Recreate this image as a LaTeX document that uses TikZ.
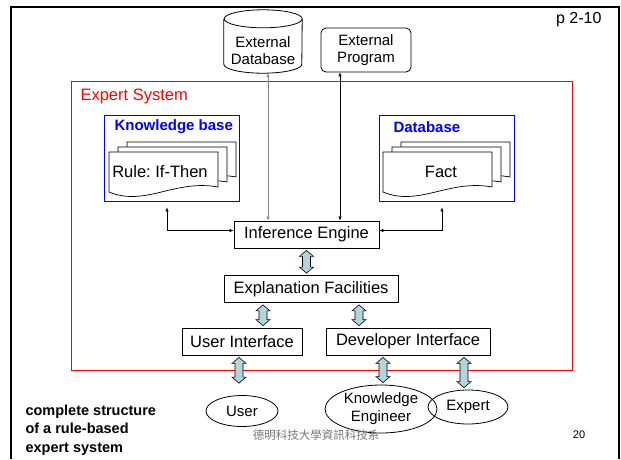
\documentclass[tikz,border=0pt]{standalone}
\usepackage{fontspec}
\setmainfont{Liberation Sans}
\newfontfamily\cjkfont{Noto Sans CJK TC}
\usepackage{xcolor}
\usepackage{tikz}
\usetikzlibrary{arrows.meta,calc,shapes.geometric}
\definecolor{arrowblue}{RGB}{176,214,218}
\definecolor{kbblue}{RGB}{0,0,255}
\definecolor{footgray}{RGB}{120,120,120}
\definecolor{linkgray}{RGB}{135,135,135}
\frenchspacing

\begin{document}
\begin{tikzpicture}[x=1pt,y=-1pt,
            box/.style={draw,line width=0.8pt,inner sep=0pt,minimum height=27,
                font=\fontsize{16.5}{19}\selectfont},
            outer/.style={inner sep=0pt,minimum height=44,align=center,
                font=\fontsize{15}{17}\selectfont},
            kbox/.style={draw=kbblue,line width=0.8pt,minimum width=135,minimum height=86,inner sep=0pt},
            kbtitle/.style={anchor=west,text=kbblue,font=\fontsize{15}{18}\bfseries},
            page/.style={draw,fill=white,line width=0.7pt},
            person/.style={ellipse,draw,line width=0.8pt,inner sep=0pt,align=center,
                font=\fontsize{15}{18}\selectfont},
            link/.style={{Latex[length=4pt,width=3.5pt]}-{Latex[length=4pt,width=3.5pt]},line width=0.6pt},
            fatarrow/.style={
                fill=arrowblue,draw=black,line width=0.6pt,
                to path={
                    let \p1=(\tikztostart), \p2=(\tikztotarget) in
                    (\x1,\y1-2pt) -- ++(7pt,-6pt) -- ++(-3pt,0pt) -- (\x1+4pt,\y2+8pt)
                    -- ++(3pt,0pt) -- (\x1,\y2+2pt) -- ++(-7pt,6pt) -- ++(3pt,0pt)
                    -- (\x1-4pt,\y1-8pt) -- ++(-3pt,0pt) -- cycle
                }
            }
        ]
            \useasboundingbox (0,0) rectangle (621,459);

            % Slide frame
            \draw[line width=2.5pt] (11,459) -- (11,7) -- (619,7) -- (619,459);
            \node[anchor=east,font=\fontsize{16}{19}\selectfont] (slideref) at (605,20) {p 2-10};

            % Outside the expert system
            \node[outer,minimum width=78] (extdb) at (263,51) {External\\Database};
            \draw[line width=0.8pt] ([yshift=10pt]extdb.north west) -- ([yshift=9pt]extdb.south west)
                arc[start angle=180,end angle=360,x radius=39pt,y radius=9pt]
                -- ([yshift=10pt]extdb.north east)
                arc[start angle=0,end angle=360,x radius=39pt,y radius=9pt];
            \node[outer,draw,line width=0.8pt,rounded corners=5pt,minimum width=90] (extprog) at (366,50) {External\\Program};

            % Expert system
            \draw[red,line width=0.8pt] (71,81) rectangle (572,370);
            \node[anchor=west,text=red,font=\fontsize{16.5}{19}\selectfont] (sysname) at (77,96) {Expert System};

            \node[kbox] (kb) at (171.5,158) {};
            \node[kbox] (db) at (446.5,158) {};
            \node[kbtitle] (kbname) at (111,127) {Knowledge base};
            \node[kbtitle] (dbname) at (390,127) {Database};

            % Stacked pages
            \foreach \bx in {0,274} {
                \foreach \dx/\dy in {18/-10,9/-5,0/0} {
                    \draw[page,shift={(\bx+\dx,\dy)}] (109,152) -- (218,152) -- (218,187)
                        .. controls (175,179) and (145,207) .. (109,192) -- cycle;
                }
            }
            \node[font=\fontsize{16.5}{19}\selectfont] (rule) at (160,172) {Rule: If-Then};
            \node[font=\fontsize{16.5}{19}\selectfont] (fact) at (441,172) {Fact};

            \node[box,minimum width=145] (ie) at (306.5,234.5) {Inference Engine};
            \node[box,minimum width=174] (ef) at (311,289) {Explanation Facilities};
            \node[box,minimum width=120] (ui) at (242,341.5) {User Interface};
            \node[box,minimum width=164] (di) at (408,341.5) {Developer Interface};

            % People
            \node[person,minimum width=72,minimum height=31] (user) at (242,411) {User};
            \node[person,minimum width=112,minimum height=48] (engineer) at (381,409) {Knowledge\\Engineer};
            \node[person,minimum width=80,minimum height=34] (expert) at (468,407) {Expert};

            % Thin links
            \draw[link,draw=linkgray,fill=linkgray,line width=0.9pt] ([xshift=5pt]extdb.south) -- ([xshift=5pt]extdb.south |- ie.north);
            \draw[link] ([xshift=-26pt]extprog.south) -- ([xshift=-26pt]extprog.south |- ie.north);
            \draw[link,shorten <=6pt] ([xshift=-4.5pt]kb.south) |- ([yshift=4pt]ie.west);
            \draw[link,shorten <=6pt] ([xshift=-4.5pt]db.south) |- ([yshift=4pt]ie.east);

            % Fat arrows
            \draw[fatarrow] (ie.south) to (ef.north);
            \draw[fatarrow] ([xshift=-48pt]ef.south) to (ui.north);
            \draw[fatarrow] ([xshift=48pt]ef.south) to (di.north);
            \draw[fatarrow] ([xshift=-3pt]ui.south) to ([yshift=10pt]user.north);
            \draw[fatarrow] ([xshift=-25pt]di.south) to (engineer.north);
            \draw[fatarrow] ([xshift=56pt]di.south) to (expert.north);

            % Footer
            \node[anchor=west,align=left,font=\fontsize{14.5}{18.5}\bfseries] (caption) at (22,430)
                {complete structure\\of a rule-based\\expert system};
            \node[text=footgray,font=\fontsize{11.5}{14}\cjkfont] (footer) at (316,435) {德明科技大學資訊科技系};
            \node[font=\fontsize{11}{13}\selectfont] (pageno) at (579,435) {20};
        \end{tikzpicture}
\end{document}
